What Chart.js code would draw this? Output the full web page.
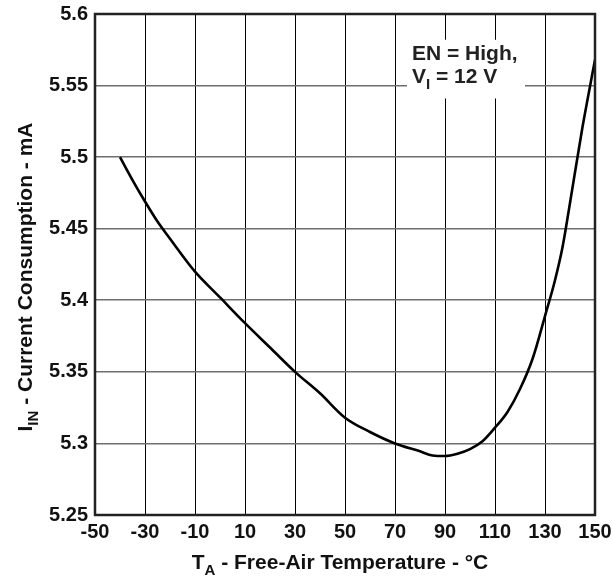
<!DOCTYPE html>
<html>
<head>
<meta charset="utf-8">
<script src="https://cdn.jsdelivr.net/npm/chart.js@4.4.1/dist/chart.umd.min.js"></script>
<style>
  html, body { margin: 0; padding: 0; background: #fff; }
  #wrap { width: 613px; height: 581px; }
</style>
</head>
<body>
<div id="wrap"><canvas id="myChart" width="613" height="581"></canvas></div>
<script>
// DATA ----------------------------------------------------------------
var tempC = [-40, -35, -30, -25, -20, -10, 0, 10, 20, 30, 40, 50, 60, 70, 80, 85, 90, 95,
             100, 105, 110, 115, 120, 125, 130, 134, 137, 140, 145, 150];
var currentMA = [5.500, 5.484, 5.469, 5.455, 5.443, 5.420, 5.402, 5.384, 5.367, 5.350, 5.335,
                 5.318, 5.308, 5.300, 5.2945, 5.2916, 5.2912, 5.2928, 5.296, 5.3015, 5.311, 5.322,
                 5.338, 5.359, 5.389, 5.414, 5.437, 5.468, 5.521, 5.568];
var xTicks = [-50, -30, -10, 10, 30, 50, 70, 90, 110, 130, 150];
var yTicks = [5.25, 5.3, 5.35, 5.4, 5.45, 5.5, 5.55, 5.6];

var FONT = "'Liberation Sans', Arial, sans-serif";
var TITLE = "bold 21px " + FONT, SUB = "bold 15px " + FONT;

// text with subscripts, parts = [[text, isSub], ...]
function partsWidth(ctx, parts) {
  var w = 0;
  parts.forEach(function(p){ ctx.font = p[1] ? SUB : TITLE; w += ctx.measureText(p[0]).width; });
  return w;
}

function drawParts(ctx, parts, x, y) {
  var cx = x;
  parts.forEach(function(p){
    ctx.font = p[1] ? SUB : TITLE;
    ctx.fillText(p[0], cx, p[1] ? y + 6 : y);
    cx += ctx.measureText(p[0]).width;
  });
}

// PLUGIN: note box, frame and axis titles --------------------------------
var extras = {
  id: "extras",
  beforeDatasetsDraw: function(chart) {
    var ctx = chart.ctx, xs = chart.scales.x, ys = chart.scales.y;
    var l = xs.getPixelForValue(74.8), r = xs.getPixelForValue(122);
    var t = ys.getPixelForValue(5.582), b = ys.getPixelForValue(5.541);
    ctx.save();
    ctx.fillStyle = "#fff";
    ctx.fillRect(l, t, r - l, b - t);
    ctx.fillStyle = "#222";
    ctx.textBaseline = "alphabetic";
    drawParts(ctx, [["EN = High,", false]], l + 5, t + 20);
    drawParts(ctx, [["V", false], ["I", true], [" = 12 V", false]], l + 5, t + 43);
    ctx.restore();
  },
  afterDraw: function(chart) {
    var ctx = chart.ctx, a = chart.chartArea;
    ctx.save();
    ctx.strokeStyle = "#222";
    ctx.lineWidth = 2.5;
    ctx.strokeRect(a.left, a.top, a.right - a.left, a.bottom - a.top);
    ctx.fillStyle = "#111";
    ctx.textBaseline = "alphabetic";
    var xt = [["T", false], ["A", true], [" - Free-Air Temperature - \u00B0C", false]];
    drawParts(ctx, xt, 340 - partsWidth(ctx, xt) / 2, 569);
    var yt = [["I", false], ["IN", true], [" - Current Consumption - mA", false]];
    ctx.translate(32, 277);
    ctx.rotate(-Math.PI / 2);
    drawParts(ctx, yt, -partsWidth(ctx, yt) / 2, 0);
    ctx.restore();
  }
};

// CHART ----------------------------------------------------------------
function makeChart() {
  var ctx = document.getElementById("myChart").getContext("2d");
  var pts = tempC.map(function(t, i){ return { x: t, y: currentMA[i] }; });
  new Chart(ctx, {
    type: "line",
    data: {
      datasets: [{
        data: pts,
        borderColor: "#000",
        borderWidth: 2.6,
        pointRadius: 0,
        fill: false,
        cubicInterpolationMode: "monotone"
      }]
    },
    options: {
      responsive: false,
      animation: false,
      layout: { padding: { top: 14, right: 18, left: 0, bottom: 0 } },
      plugins: { legend: { display: false }, tooltip: { enabled: false } },
      scales: {
        x: {
          type: "linear",
          min: -50, max: 150,
          afterBuildTicks: function(s){ s.ticks = xTicks.map(function(v){ return { value: v }; }); },
          afterFit: function(s){ s.height = 66; s.paddingLeft = 0; s.paddingRight = 0; },
          grid: { color: "#000", lineWidth: 1, drawTicks: false },
          border: { display: false },
          ticks: { color: "#111", padding: 5, maxRotation: 0, autoSkip: false,
                    font: { family: FONT, size: 20, weight: "bold" } }
        },
        y: {
          type: "linear",
          min: 5.25, max: 5.6,
          afterBuildTicks: function(s){ s.ticks = yTicks.map(function(v){ return { value: v }; }); },
          afterFit: function(s){ s.width = 95; s.paddingTop = 0; s.paddingBottom = 0; },
          grid: { color: "#6e6e6e", lineWidth: 1.6, drawTicks: false },
          border: { display: false },
          ticks: { color: "#111", padding: 7, autoSkip: false,
                    font: { family: FONT, size: 20, weight: "bold" },
                    callback: function(v){ return String(+v.toFixed(2)); } }
        }
      }
    },
    plugins: [extras]
  });
}

makeChart();
</script>
</body>
</html>
